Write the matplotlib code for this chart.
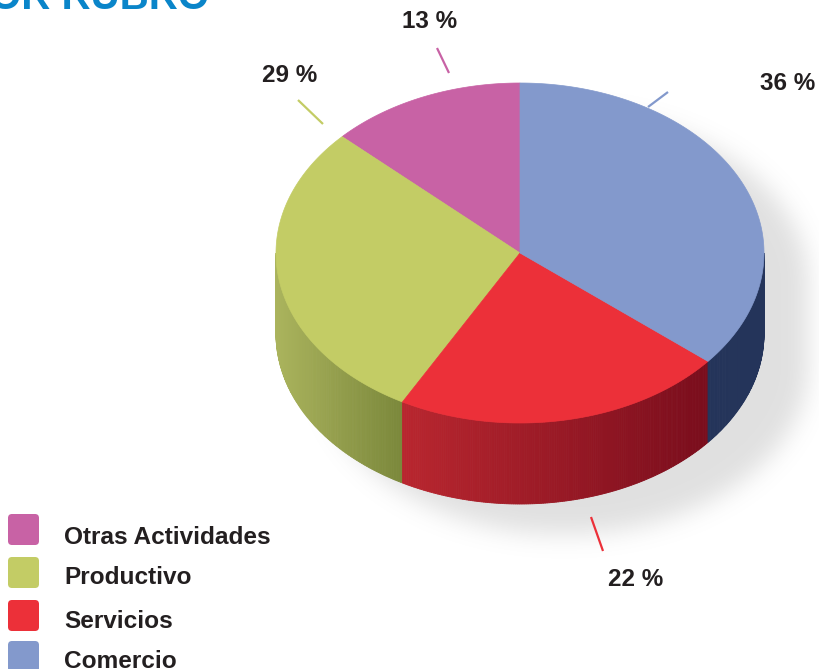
import numpy as np
import matplotlib
matplotlib.use("Agg")
import matplotlib.pyplot as plt
from matplotlib.patches import Polygon, FancyBboxPatch
from matplotlib.colors import to_rgb

# ---- data ----
categories = ["Otras Actividades", "Productivo", "Servicios", "Comercio"]
values = [13, 29, 22, 36]
labels = ["13 %", "29 %", "22 %", "36 %"]
top_colors = ["#c862a5", "#c3cc65", "#ec3039", "#8399cc"]
side_light = ["#b5508f", "#abb45d", "#b9262f", "#24345a"]
side_dark = ["#9a3f77", "#7b883b", "#7a0d1c", "#24345a"]
title = "POR RUBRO"

# ---- layout ----
W, H = 820, 669
cx, cy, rx, ry, depth = 520, 253, 244, 170, 81
label_pos = [(430, 22), (290, 76), (636, 580), (788, 84)]
leader = [((437, 48), (449, 73)), ((298, 100), (323, 124)),
          ((591, 517), (603, 551)), ((648, 107), (668, 92))]
FONT = ["Liberation Sans", "DejaVu Sans"]
TXT = "#231f20"

fig = plt.figure(figsize=(W / 100, H / 100), dpi=100)
ax = fig.add_axes([0, 0, 1, 1])
ax.set_xlim(0, W)
ax.set_ylim(H, 0)
ax.axis("off")

def pt(tdeg, dz=0.0):
    t = np.radians(tdeg)
    return cx + rx * np.cos(t), cy - ry * np.sin(t) + dz

# ---- soft shadow ----
yy, xx = np.mgrid[0:H, 0:W].astype(float)
sx, sy = 44, 30
mask = np.zeros((H, W))
for dz in np.linspace(0, depth, 30):
    mask = np.maximum(mask, (((xx - cx - sx) / rx) ** 2 + ((yy - cy - dz - sy) / ry) ** 2 <= 1).astype(float))
def blur(a, r):
    k = np.ones(2 * r + 1) / (2 * r + 1)
    a = np.apply_along_axis(lambda m: np.convolve(m, k, mode="same"), 0, a)
    a = np.apply_along_axis(lambda m: np.convolve(m, k, mode="same"), 1, a)
    return a
for _ in range(3):
    mask = blur(mask, 11)
rgba = np.zeros((H, W, 4))
rgba[..., :3] = 0.6
rgba[..., 3] = mask * 0.3
ax.imshow(rgba, extent=(0, W, H, 0), zorder=0, interpolation="bilinear")

# ---- slices ----
total = sum(values)
start = 90.0
angles = []
for v in values:
    end = start + v / total * 360.0
    angles.append((start, end))
    start = end

# side walls
for (a, b), cl, cd in zip(angles, side_light, side_dark):
    lo, hi = max(a, 180), min(b, 360)
    if hi <= lo:
        continue
    ts = np.linspace(lo, hi, max(int((hi - lo) * 2), 2))
    xs = [pt(t)[0] for t in ts]
    xmin, xmax = min(xs), max(xs)
    c1, c2 = np.array(to_rgb(cl)), np.array(to_rgb(cd))
    for t0, t1 in zip(ts[:-1], ts[1:]):
        p0, p1 = pt(t0), pt(t1)
        q0, q1 = pt(t0, depth), pt(t1, depth)
        xm = (p0[0] + p1[0]) / 2
        f = (xm - xmin) / (xmax - xmin) if xmax > xmin else 0
        col = c1 + (c2 - c1) * f
        ax.add_patch(Polygon([p0, p1, q1, q0], closed=True, facecolor=col,
                             edgecolor=col, linewidth=0.6, zorder=2))

# top faces
for (a, b), c in zip(angles, top_colors):
    ts = np.linspace(a, b, 200)
    pts = [(cx, cy)] + [pt(t) for t in ts]
    ax.add_patch(Polygon(pts, closed=True, facecolor=c, edgecolor=c,
                         linewidth=0.5, zorder=3))

# labels & leader lines
for (p, q), (lx, ly), lab, c in zip(leader, label_pos, labels, top_colors):
    ax.plot([p[0], q[0]], [p[1], q[1]], color=c, lw=1.6, zorder=4,
            solid_capstyle="butt")
    ax.text(lx, ly, lab, ha="center", va="center", fontsize=17.5,
            fontweight="bold", color=TXT, family=FONT, zorder=5)

# legend
box_y = [514, 557, 600, 641]
text_y = [537, 577, 622, 661]
for cat, c, by, ty in zip(categories, top_colors, box_y, text_y):
    ax.add_patch(FancyBboxPatch((11, by + 3), 25, 25,
                                boxstyle="round,pad=3,rounding_size=4",
                                facecolor=c, edgecolor="none", zorder=5))
    ax.text(64, ty, cat, ha="left", va="center", fontsize=17.6,
            fontweight="bold", color=TXT, family=FONT, zorder=5)

# title (cut off at the top)
ax.text(209, 9, title, ha="right", va="baseline", fontsize=29,
        fontweight="bold", color="#0a85c9", family=FONT, zorder=5)

fig.savefig("out.png", dpi=100)
